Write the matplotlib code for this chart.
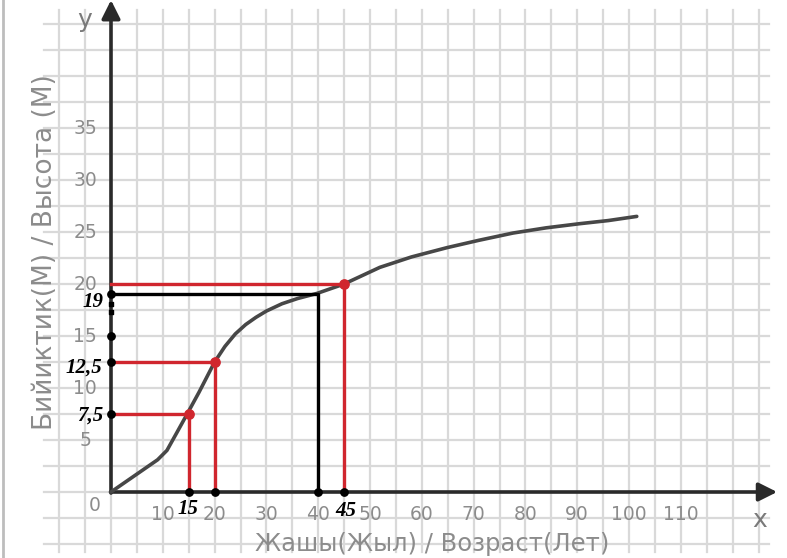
import numpy as np
import matplotlib.pyplot as plt

# Curve (age in years, height in m)
age = [0, 9, 10.8, 12.7, 14.7, 17, 20, 22, 24, 26, 28, 30, 33, 36, 39.8,
       45, 51.9, 58, 64.9, 71, 77.6, 84, 90.5, 96, 101.5]
height = [0, 3.1, 4.0, 5.7, 7.5, 9.6, 12.5, 14.0, 15.2, 16.1, 16.8, 17.4, 18.1, 18.6, 19.1,
          20.0, 21.6, 22.6, 23.5, 24.2, 24.9, 25.4, 25.8, 26.1, 26.5]

# Marked readings
red_x = [15, 20, 45]
red_y = [7.5, 12.5, 20]
black_x = [40]
black_y = [19]
yaxis_dots = [7.5, 12.5, 15, 19]
xaxis_dots = [15, 20, 40, 45]

xticks = [10, 20, 30, 40, 50, 60, 70, 80, 90, 100, 110]
yticks = [5, 10, 15, 20, 25, 30, 35]

x_label = "Жашы(Жыл) / Возраст(Лет)"
y_label = "Бийиктик(М) / Высота (М)"

fig = plt.figure(figsize=(7.87, 5.58), dpi=100)
ax = fig.add_axes([0, 0, 1, 1])
ax.set_xlim(-111 / 5.18, (787 - 111) / 5.18)
ax.set_ylim(-(558 - 492) / 10.4, 492 / 10.4)
ax.axis("off")

# grid paper
grid_c = "#d9d9d9"
for gx in np.arange(-10, 126, 5):
    ax.plot([gx, gx], [-5.8, 46.3], color=grid_c, lw=1.6, zorder=0)
for gy in np.arange(-5, 46, 2.5):
    ax.plot([-13, 127], [gy, gy], color=grid_c, lw=1.6, zorder=0)

# axes with arrows
axis_c = "#2a2a2a"
ax.annotate("", xy=(0, 47.3), xytext=(0, -0.1),
            arrowprops=dict(arrowstyle="-|>", lw=2.6, color=axis_c, mutation_scale=28, shrinkA=0, shrinkB=0))
ax.annotate("", xy=(128.6, 0), xytext=(-0.1, 0),
            arrowprops=dict(arrowstyle="-|>", lw=2.6, color=axis_c, mutation_scale=28, shrinkA=0, shrinkB=0))

# tick labels
tick_c = "#8c8c8c"
for t in xticks:
    ax.text(t, -2.2, str(t), color=tick_c, fontsize=13.5, ha="center", va="center")
for t in yticks:
    ax.text(-5, t, str(t), color=tick_c, fontsize=13.5, ha="center", va="center")
ax.text(-3.1, -1.3, "0", color=tick_c, fontsize=13.5, ha="center", va="center")
ax.text(-5, 45.4, "y", color="#7a7a7a", fontsize=18, ha="center", va="center")
ax.text(125.3, -2.7, "x", color="#7a7a7a", fontsize=18, ha="center", va="center")
ax.text(62, -5.0, x_label, color=tick_c, fontsize=17.5, ha="center", va="center")
ax.text(-12.8, 23.1, y_label, color=tick_c, fontsize=19, ha="center", va="center", rotation=90)

# growth curve
ax.plot(age, height, color="#474747", lw=2.6, solid_capstyle="round", solid_joinstyle="round", zorder=3)

# red readings
red = "#d0262e"
for x, y in zip(red_x, red_y):
    ax.plot([0, x, x], [y, y, 0], color=red, lw=2.4, zorder=4)
ax.scatter(red_x, red_y, s=45, color=red, zorder=6)

# black reading
for x, y in zip(black_x, black_y):
    ax.plot([0, x, x], [y, y, 0], color="black", lw=2.4, zorder=4)

ax.scatter([0] * len(yaxis_dots), yaxis_dots, s=28, color="black", zorder=7)
ax.scatter(xaxis_dots, [0] * len(xaxis_dots), s=28, color="black", zorder=7)
ax.scatter([0, 0], [18.1, 17.3], s=6, marker="s", color="black", zorder=7)

# value labels
lab = dict(fontsize=15, family="Liberation Serif", style="italic", fontweight="bold", color="black", va="center")
ax.text(-1.5, 18.3, "19", ha="right", **lab)
ax.text(-1.7, 12.0, "12,5", ha="right", **lab)
ax.text(-1.5, 7.3, "7,5", ha="right", **lab)
ax.text(14.9, -1.6, "15", ha="center", **lab)
ax.text(45.3, -1.8, "45", ha="center", **lab)

# scan border on the left
ax.plot([-20.9, -20.9], [-6.4, 47.4], color="#bdbdbd", lw=2, zorder=1)

fig.savefig("out.png", dpi=100)
